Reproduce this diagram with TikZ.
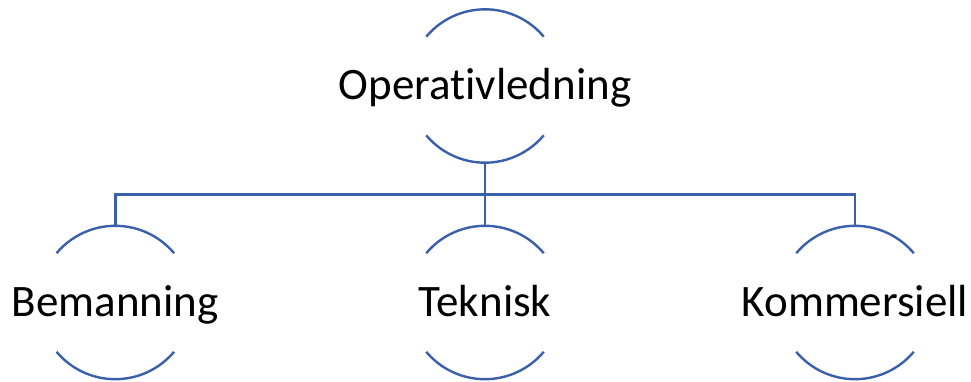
\documentclass[tikz,border=0pt]{standalone}
\usepackage{fontspec}
\setmainfont{Carlito}[Ligatures=NoCommon]
\usetikzlibrary{calc}
\definecolor{arcblue}{RGB}{58,96,172}
\begin{document}
\begin{tikzpicture}[x=1pt,y=-1pt,
  arcline/.style={draw=arcblue,line width=2.4pt},
  conn/.style={draw=arcblue,line width=2.4pt},
  lbl/.style={font=\fontsize{45}{54}\selectfont,inner sep=0pt,text=black,anchor=base}]
\useasboundingbox (0,0) rectangle (971,382);
\def\R{76.7}
% circle centres
\coordinate (c0) at (485,86);
\coordinate (c1) at (115.3,302.5);
\coordinate (c2) at (485,302.5);
\coordinate (c3) at (855,302.5);
\foreach \c in {c0,c1,c2,c3}{
  \draw[arcline] (\c) ++(220:\R) arc[start angle=220,end angle=320,radius=\R];
  \draw[arcline] (\c) ++(40:\R) arc[start angle=40,end angle=140,radius=\R];
}
% anchor points on the arcs
\coordinate (b0) at ($(c0)+(0,\R)$);
\foreach \i in {1,2,3}{\coordinate (t\i) at ($(c\i)+(0,-\R)$);}
\coordinate (bus) at (485,194.5);
\draw[conn] (b0) -- (bus);
\draw[conn] (t1) |- (bus) -| (t3);
\draw[conn] (bus) -- (t2);
\node[lbl] (n0) at ($(c0)+(0,13.8)$) {Operativledning};
\node[lbl] (n1) at ($(c1)+(0,13.8)$) {Bemanning};
\node[lbl] (n2) at ($(c2)+(0,13.8)$) {Teknisk};
\node[lbl] (n3) at ($(c3)+(0,13.8)$) {Kommersiell};
\end{tikzpicture}
\end{document}
